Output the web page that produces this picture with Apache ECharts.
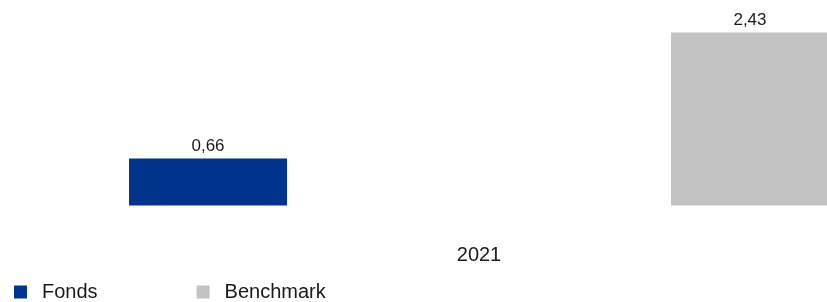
<!DOCTYPE html>
<html>
<head>
<meta charset="utf-8">
<script src="https://cdn.jsdelivr.net/npm/echarts@6/dist/echarts.min.js"></script>
<style>
html, body { margin: 0; padding: 0; background: #fff; overflow: hidden; }
#chart { width: 958px; height: 302px; }
</style>
</head>
<body>
<div id="chart"></div>
<script>
// Daten
var categories = ['2021'];
var fonds = [0.66];
var benchmark = [2.43];

var chart = echarts.init(document.getElementById('chart'));

function fmt(p) {
    return p.value.toFixed(2).replace('.', ',');
}

var option = {
    animation: false,
    textStyle: { fontFamily: 'Liberation Sans, Arial, sans-serif' },
    legend: {
        left: 14,
        top: 282,
        padding: 0,
        itemWidth: 13,
        itemHeight: 13,
        itemGap: 99,
        icon: 'rect',
        textStyle: { fontSize: 20, color: '#1a1a1a', padding: [4, 0, 0, 10] },
        data: ['Fonds', 'Benchmark']
    },
    grid: {
        left: 0,
        top: 20.5,
        right: 0,
        height: 185
    },
    xAxis: {
        type: 'category',
        data: categories,
        axisLine: { show: false },
        axisTick: { show: false },
        axisLabel: { fontSize: 20, color: '#1a1a1a', margin: 40 }
    },
    yAxis: {
        type: 'value',
        min: 0,
        max: 2.6,
        show: false
    },
    series: [
        {
            name: 'Fonds',
            type: 'bar',
            data: fonds,
            barWidth: 158,
            barGap: '243%',
            itemStyle: { color: '#00348C' },
            label: { show: true, position: 'top', distance: 4, fontSize: 17, color: '#1a1a1a', formatter: fmt }
        },
        {
            name: 'Benchmark',
            type: 'bar',
            data: benchmark,
            barWidth: 158,
            itemStyle: { color: '#C3C3C3' },
            label: { show: true, position: 'top', distance: 4, fontSize: 17, color: '#1a1a1a', formatter: fmt }
        }
    ]
};
chart.setOption(option);
</script>
</body>
</html>
